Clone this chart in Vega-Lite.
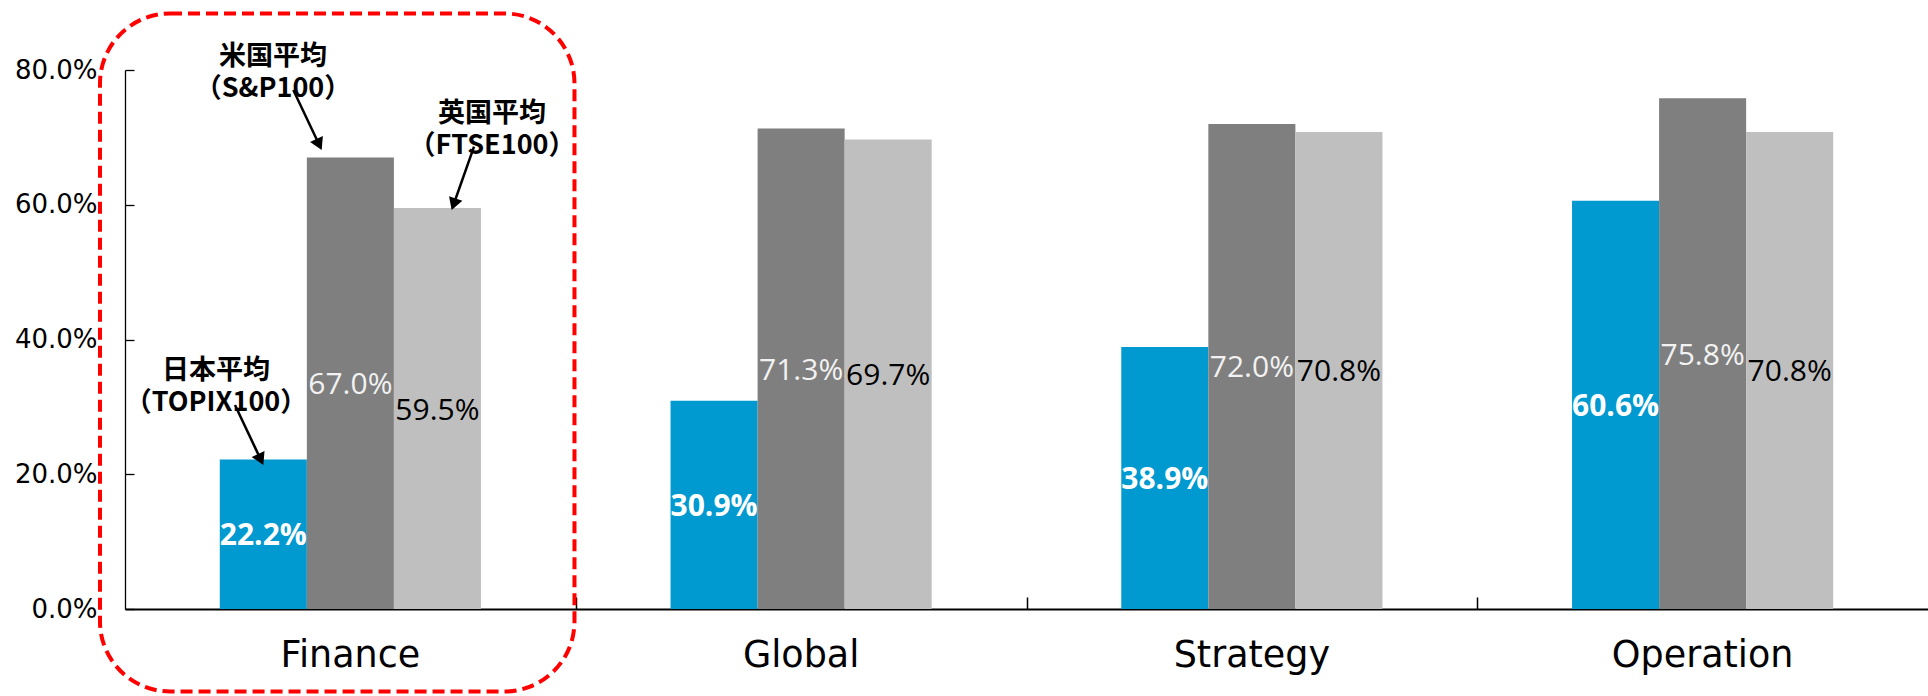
{
  "$schema": "https://vega.github.io/schema/vega-lite/v6.json",
  "width": 1803,
  "height": 539,
  "autosize": {"type": "none"},
  "padding": {"left": 125, "top": 70, "right": 0, "bottom": 87},
  "background": "white",
  "config": {"view": {"stroke": null}},
  "datasets": {
    "bars": [
      {"category": "Finance", "series": "日本", "value": 0.222},
      {"category": "Finance", "series": "米国", "value": 0.670},
      {"category": "Finance", "series": "英国", "value": 0.595},
      {"category": "Global", "series": "日本", "value": 0.309},
      {"category": "Global", "series": "米国", "value": 0.713},
      {"category": "Global", "series": "英国", "value": 0.697},
      {"category": "Strategy", "series": "日本", "value": 0.389},
      {"category": "Strategy", "series": "米国", "value": 0.720},
      {"category": "Strategy", "series": "英国", "value": 0.708},
      {"category": "Operation", "series": "日本", "value": 0.606},
      {"category": "Operation", "series": "米国", "value": 0.758},
      {"category": "Operation", "series": "英国", "value": 0.708}
    ],
    "notes": [
      {"id": "topix", "label": "日本平均\n（TOPIX100）", "x": 0.2019, "y": 0.3528},
      {"id": "sp", "label": "米国平均\n（S&P100）", "x": 0.3283, "y": 0.8196},
      {"id": "ftse", "label": "英国平均\n（FTSE100）", "x": 0.8142, "y": 0.7340}
    ],
    "arrows": [
      {"id": "topix", "x": 0.2440, "y": 0.3028, "x2": 0.3011, "y2": 0.2219},
      {"id": "sp", "x": 0.3734, "y": 0.7703, "x2": 0.4306, "y2": 0.6894},
      {"id": "ftse", "x": 0.7743, "y": 0.6862, "x2": 0.7292, "y2": 0.6007}
    ],
    "frame": [
      {"x": -0.0555, "x2": 0.9972, "y": 0.8839, "y2": -0.1224}
    ]
  },
  "resolve": {
    "scale": {"x": "independent", "y": "independent"},
    "axis": {"x": "independent", "y": "independent"}
  },
  "layer": [
    {
      "data": {"name": "bars"},
      "mark": {"type": "bar"},
      "encoding": {
        "x": {
          "field": "category", "type": "nominal",
          "sort": ["Finance", "Global", "Strategy", "Operation"],
          "scale": {"domain": ["Finance", "Global", "Strategy", "Operation"], "paddingInner": 0, "paddingOuter": 0},
          "axis": {"orient": "bottom", "title": null, "labelAngle": 0, "ticks": false, "domain": true, "domainColor": "black", "domainWidth": 2, "labelFont": "DejaVu Sans", "labelFontSize": 36.5, "labelColor": "black", "labelPadding": 57, "labelBaseline": "alphabetic", "labelLimit": 0, "grid": false}
        },
        "xOffset": {"field": "series", "type": "nominal", "scale": {"domain": ["前", "日本", "米国", "英国", "後"], "paddingInner": 0, "paddingOuter": 0.089}},
        "y": {
          "field": "value", "type": "quantitative",
          "scale": {"domain": [0, 0.8], "nice": false},
          "axis": {"title": null, "values": [0, 0.2, 0.4, 0.6, 0.8], "format": ".1%", "grid": false, "domainColor": "black", "domainWidth": 1.3, "tickColor": "black", "tickSize": -9, "tickWidth": 1.3, "labelFont": "DejaVu Sans", "labelFontSize": 26, "labelColor": "black", "labelPadding": 37}
        },
        "color": {"field": "series", "type": "nominal", "scale": {"domain": ["日本", "米国", "英国"], "range": ["#0099D0", "#7F7F7F", "#BFBFBF"]}, "legend": null}
      }
    },
    {
      "data": {"name": "bars"},
      "transform": [{"filter": "datum.series === '日本'"}],
      "mark": {"type": "text", "font": "Open Sans", "fontSize": 30, "fontWeight": "bold", "color": "white", "baseline": "middle", "align": "center", "dy": 2},
      "encoding": {
        "x": {"field": "category", "type": "nominal", "scale": {"domain": ["Finance", "Global", "Strategy", "Operation"], "paddingInner": 0, "paddingOuter": 0}, "axis": null},
        "xOffset": {"field": "series", "type": "nominal", "scale": {"domain": ["前", "日本", "米国", "英国", "後"], "paddingInner": 0, "paddingOuter": 0.089}},
        "y": {"field": "value", "type": "quantitative", "scale": {"domain": [0, 1.6], "nice": false}, "axis": null},
        "text": {"field": "value", "type": "quantitative", "format": ".1%"}
      }
    },
    {
      "data": {"name": "bars"},
      "transform": [{"filter": "datum.series !== '日本'"}],
      "mark": {"type": "text", "font": "Open Sans", "fontSize": 30, "fontWeight": "normal", "baseline": "middle", "align": "center", "dy": 2},
      "encoding": {
        "x": {"field": "category", "type": "nominal", "scale": {"domain": ["Finance", "Global", "Strategy", "Operation"], "paddingInner": 0, "paddingOuter": 0}, "axis": null},
        "xOffset": {"field": "series", "type": "nominal", "scale": {"domain": ["前", "日本", "米国", "英国", "後"], "paddingInner": 0, "paddingOuter": 0.089}},
        "y": {"field": "value", "type": "quantitative", "scale": {"domain": [0, 1.6], "nice": false}, "axis": null},
        "text": {"field": "value", "type": "quantitative", "format": ".1%"},
        "color": {"condition": {"test": "datum.series === '米国'", "value": "#F2F2F2"}, "value": "black"}
      }
    },
    {
      "data": {"name": "notes"},
      "mark": {"type": "text", "font": "Noto Sans CJK JP", "fontSize": 27, "fontWeight": "bold", "color": "black", "baseline": "middle", "align": "center", "lineBreak": "\n", "lineHeight": 32},
      "encoding": {
        "x": {"field": "x", "type": "quantitative", "scale": {"domain": [0, 4], "nice": false, "zero": false}, "axis": null},
        "y": {"field": "y", "type": "quantitative", "scale": {"domain": [0, 0.8], "nice": false, "zero": false}, "axis": null},
        "text": {"field": "label", "type": "nominal"}
      }
    },
    {
      "data": {"name": "arrows"},
      "mark": {"type": "rule", "color": "black", "strokeWidth": 2.5},
      "encoding": {
        "x": {"field": "x", "type": "quantitative", "scale": {"domain": [0, 4], "nice": false, "zero": false}, "axis": null},
        "x2": {"field": "x2"},
        "y": {"field": "y", "type": "quantitative", "scale": {"domain": [0, 0.8], "nice": false, "zero": false}, "axis": null},
        "y2": {"field": "y2"}
      }
    },
    {
      "data": {"name": "arrows"},
      "transform": [{"filter": "datum.id === 'topix'"}],
      "mark": {"type": "point", "shape": "triangle-up", "filled": true, "color": "black", "opacity": 1, "size": 200, "angle": 154.75},
      "encoding": {
        "x": {"field": "x2", "type": "quantitative", "scale": {"domain": [0, 4], "nice": false, "zero": false}, "axis": null},
        "y": {"field": "y2", "type": "quantitative", "scale": {"domain": [0, 0.8], "nice": false, "zero": false}, "axis": null}
      }
    },
    {
      "data": {"name": "arrows"},
      "transform": [{"filter": "datum.id === 'sp'"}],
      "mark": {"type": "point", "shape": "triangle-up", "filled": true, "color": "black", "opacity": 1, "size": 200, "angle": 154.7},
      "encoding": {
        "x": {"field": "x2", "type": "quantitative", "scale": {"domain": [0, 4], "nice": false, "zero": false}, "axis": null},
        "y": {"field": "y2", "type": "quantitative", "scale": {"domain": [0, 0.8], "nice": false, "zero": false}, "axis": null}
      }
    },
    {
      "data": {"name": "arrows"},
      "transform": [{"filter": "datum.id === 'ftse'"}],
      "mark": {"type": "point", "shape": "triangle-up", "filled": true, "color": "black", "opacity": 1, "size": 200, "angle": 199.4},
      "encoding": {
        "x": {"field": "x2", "type": "quantitative", "scale": {"domain": [0, 4], "nice": false, "zero": false}, "axis": null},
        "y": {"field": "y2", "type": "quantitative", "scale": {"domain": [0, 0.8], "nice": false, "zero": false}, "axis": null}
      }
    },
    {
      "data": {"name": "frame"},
      "mark": {"type": "rect", "filled": false, "color": "#FF0000", "strokeWidth": 4, "strokeDash": [12, 6], "cornerRadius": 70},
      "encoding": {
        "x": {"field": "x", "type": "quantitative", "scale": {"domain": [0, 4], "nice": false, "zero": false},
          "axis": {"orient": "bottom", "values": [1, 2, 3], "labels": false, "domain": false, "grid": false, "ticks": true, "tickSize": -12, "tickColor": "black", "tickWidth": 1.5, "title": null}},
        "x2": {"field": "x2"},
        "y": {"field": "y", "type": "quantitative", "scale": {"domain": [0, 0.8], "nice": false, "zero": false}, "axis": null},
        "y2": {"field": "y2"}
      }
    }
  ]
}
